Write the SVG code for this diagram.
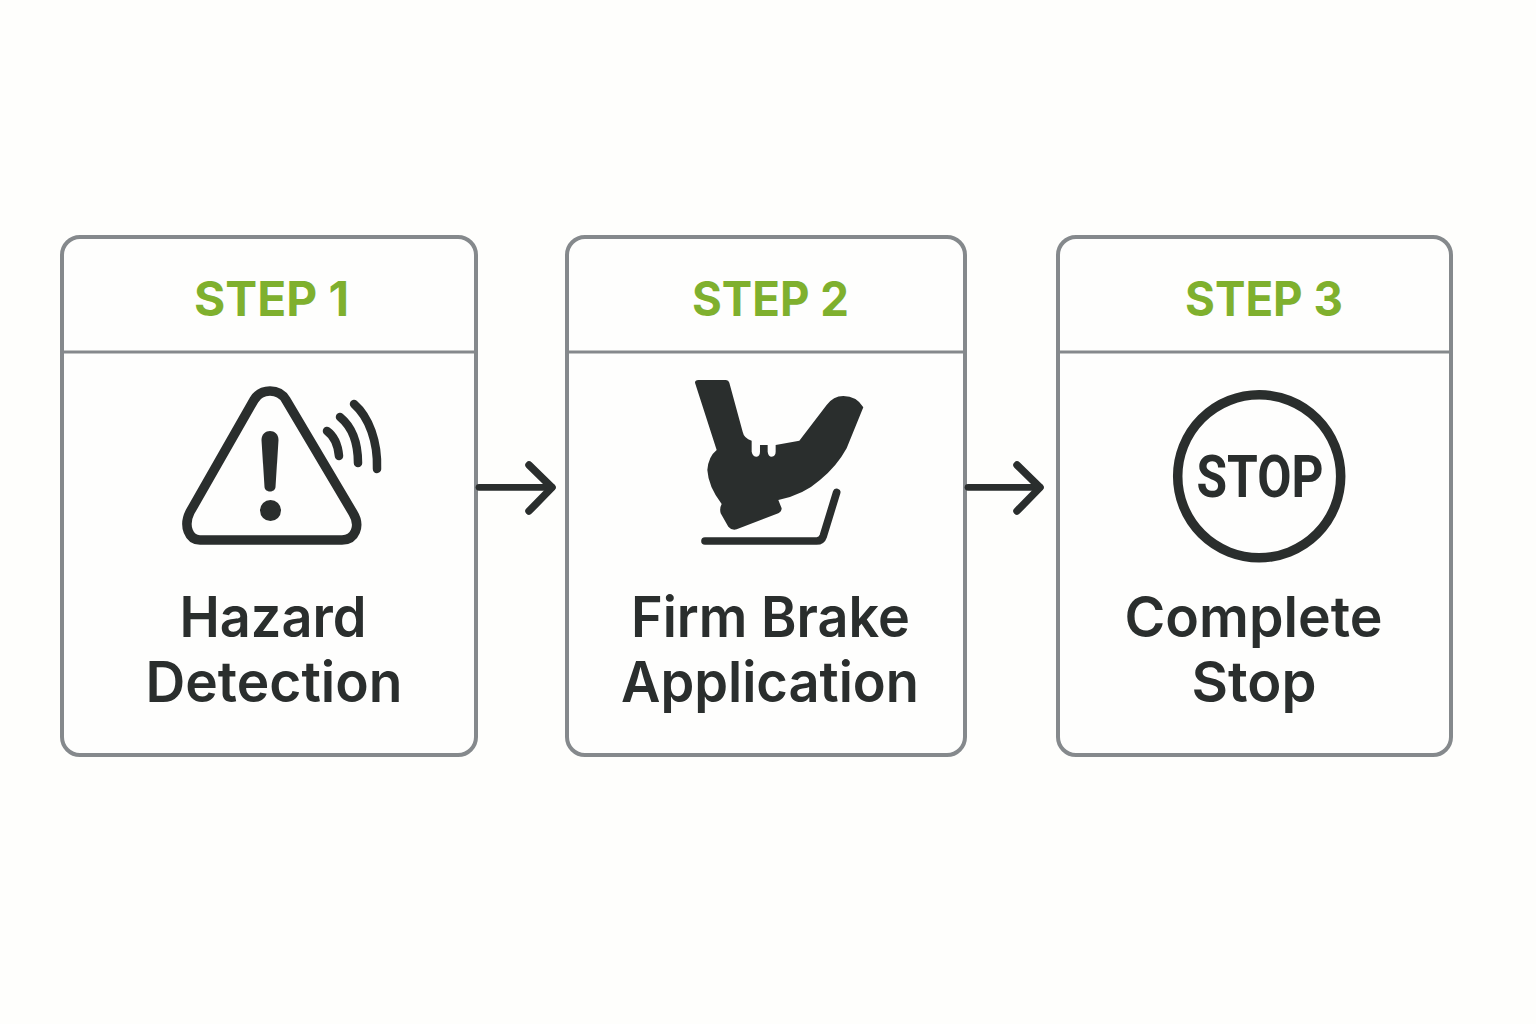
<svg xmlns="http://www.w3.org/2000/svg" width="1536" height="1024" viewBox="0 0 1536 1024">
<style>
.box{fill:#fefefd;stroke:#85898c;stroke-width:4}
.div{stroke:#85898c;stroke-width:3;fill:none}
.step{font-family:Inter,"Liberation Sans",sans-serif;font-weight:700;font-size:48px;fill:#7fb02e;text-anchor:middle}
.lbl{font-family:Inter,"Liberation Sans",sans-serif;font-weight:600;font-size:56px;fill:#2a2e2d;text-anchor:middle}
.ln{fill:none;stroke:#2a2e2d;stroke-linecap:round;stroke-linejoin:round}
.ink{fill:#2a2e2d}
</style>
<rect width="1536" height="1024" fill="#fefefc"/>
<g id="step1">
<rect class="box" x="62" y="237" width="414" height="518" rx="18"/>
<path class="div" d="M62 352H476"/>
<text class="step" x="271.500" y="316" textLength="155" lengthAdjust="spacingAndGlyphs">STEP 1</text>
<path class="ln" stroke-width="9.500" d="M200 540H342C355 540 361 526 353 513L286 400C279 388 261 388 254 400L190 512C183 526 189 540 200 540Z"/>
<path class="ink" d="M261.500 440C261.500 428 278.500 428 278.500 440L275.500 487C275 493 265 493 264.500 487Z"/>
<circle class="ink" cx="270.500" cy="510.500" r="10.500"/>
<path class="ln" stroke-width="8.500" d="M327 431C334 436 338 445 339 456"/>
<path class="ln" stroke-width="8.500" d="M340 417C351 426 358 442 358 463"/>
<path class="ln" stroke-width="8.500" d="M354 404C369 417 378 442 377 469"/>
<text class="lbl" x="273" y="637" textLength="187" lengthAdjust="spacingAndGlyphs">Hazard</text>
<text class="lbl" x="274" y="702" textLength="257" lengthAdjust="spacingAndGlyphs">Detection</text>
</g>
<g id="step2">
<rect class="box" x="567" y="237" width="398" height="518" rx="18"/>
<path class="div" d="M567 352H965"/>
<text class="step" x="770.500" y="316" textLength="157" lengthAdjust="spacingAndGlyphs">STEP 2</text>
<g transform="translate(680 370) scale(.3333)">
<path class="ink" d="M45 38Q45 30 55 30L138 30Q146 30 148 38L188 185Q192 205 215 212L215 245Q218 260 230 260Q240 258 240 245L240 225L263 225L263 245Q265 260 275 260Q287 258 287 245L287 225L358 212L440 105Q460 78 490 78Q530 78 550 112L500 235Q470 290 420 330Q370 375 295 390L305 415Q305 425 295 430L170 478Q155 482 145 470L122 430Q118 415 125 402Q85 350 82 300Q85 260 110 240Z"/>
<path class="ln" stroke-width="23" d="M75 513H410Q425 513 430 498L470 367"/>
</g>
<text class="lbl" x="770.500" y="637" textLength="279" lengthAdjust="spacingAndGlyphs">Firm Brake</text>
<text class="lbl" x="770" y="702" textLength="298" lengthAdjust="spacingAndGlyphs">Application</text>
</g>
<g id="step3">
<rect class="box" x="1058" y="237" width="393" height="518" rx="18"/>
<path class="div" d="M1058 352H1451"/>
<text class="step" x="1264" y="316" textLength="158" lengthAdjust="spacingAndGlyphs">STEP 3</text>
<circle cx="1259.200" cy="476.300" r="81.500" fill="none" stroke="#2a2e2d" stroke-width="9.500"/>
<text x="1260" y="497" font-family="Roboto,'Liberation Sans',sans-serif" font-weight="700" font-size="59" fill="#2a2e2d" text-anchor="middle" textLength="127" lengthAdjust="spacingAndGlyphs">STOP</text>
<text class="lbl" x="1253.500" y="637" textLength="258" lengthAdjust="spacingAndGlyphs">Complete</text>
<text class="lbl" x="1254" y="702" textLength="125" lengthAdjust="spacingAndGlyphs">Stop</text>
</g>
<g id="connectors">
<path class="ln" stroke-width="6.700" stroke-linecap="butt" d="M479 487.300H552"/>
<path class="ln" stroke-width="7.500" d="M529 465L552 487.500L529 511"/>
<path class="ln" stroke-width="6.700" stroke-linecap="butt" d="M968 487.300H1040"/>
<path class="ln" stroke-width="7.500" d="M1017 465L1040 487.500L1017 511"/>
</g>
</svg>
